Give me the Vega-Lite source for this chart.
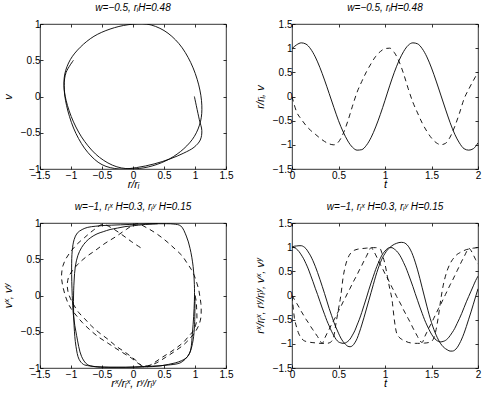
{
  "$schema": "https://vega.github.io/schema/vega-lite/v6.json",
  "padding": {"left": 1, "top": 2, "right": 3, "bottom": 3},
  "background": "white",
  "config": {
    "font": "Liberation Sans",
    "view": {"stroke": "black", "strokeWidth": 0.8},
    "axis": {"grid": false, "domain": false, "ticks": true, "tickColor": "black", "tickSize": -3, "tickWidth": 0.8, "labelFont": "Liberation Sans", "labelFontSize": 10, "labelColor": "black", "labelFlush": false, "labelOverlap": false, "titleFont": "Liberation Sans", "titleFontSize": 11, "titleFontWeight": "normal", "titleFontStyle": "italic", "titleColor": "black"},
    "axisX": {"labelPadding": 4, "titlePadding": -2},
    "axisY": {"labelPadding": 3, "titlePadding": 7},
    "title": {"font": "Liberation Sans", "fontSize": 10, "fontStyle": "italic", "fontWeight": "normal", "color": "black", "offset": 6.5, "frame": "group"},
    "line": {"color": "black", "strokeWidth": 0.9}
  },
  "datasets": {
    "top": [
      {"t": 0, "s": 0.99, "v": 0},
      {"t": 0.05, "s": 1.07, "v": -0.32},
      {"t": 0.1, "s": 1.11, "v": -0.47},
      {"t": 0.15, "s": 1.085, "v": -0.6},
      {"t": 0.2, "s": 0.985, "v": -0.7},
      {"t": 0.25, "s": 0.82, "v": -0.78},
      {"t": 0.3, "s": 0.6, "v": -0.86},
      {"t": 0.35, "s": 0.34, "v": -0.93},
      {"t": 0.4, "s": 0.06, "v": -0.98},
      {"t": 0.45, "s": -0.225, "v": -1.0},
      {"t": 0.5, "s": -0.5, "v": -0.94},
      {"t": 0.55, "s": -0.73, "v": -0.77},
      {"t": 0.6, "s": -0.92, "v": -0.51},
      {"t": 0.65, "s": -1.05, "v": -0.2},
      {"t": 0.7, "s": -1.11, "v": 0.09},
      {"t": 0.75, "s": -1.1, "v": 0.31},
      {"t": 0.8, "s": -1.01, "v": 0.51},
      {"t": 0.85, "s": -0.85, "v": 0.68},
      {"t": 0.9, "s": -0.63, "v": 0.83},
      {"t": 0.95, "s": -0.37, "v": 0.93},
      {"t": 1.0, "s": -0.08, "v": 0.99},
      {"t": 1.05, "s": 0.22, "v": 1.0},
      {"t": 1.1, "s": 0.5, "v": 0.91},
      {"t": 1.15, "s": 0.74, "v": 0.73},
      {"t": 1.2, "s": 0.93, "v": 0.47},
      {"t": 1.25, "s": 1.06, "v": 0.16},
      {"t": 1.3, "s": 1.11, "v": -0.12},
      {"t": 1.35, "s": 1.09, "v": -0.34},
      {"t": 1.4, "s": 0.99, "v": -0.55},
      {"t": 1.45, "s": 0.82, "v": -0.72},
      {"t": 1.5, "s": 0.59, "v": -0.86},
      {"t": 1.55, "s": 0.32, "v": -0.955},
      {"t": 1.6, "s": 0.03, "v": -0.997},
      {"t": 1.65, "s": -0.26, "v": -0.97},
      {"t": 1.7, "s": -0.54, "v": -0.84},
      {"t": 1.75, "s": -0.78, "v": -0.62},
      {"t": 1.8, "s": -0.96, "v": -0.35},
      {"t": 1.85, "s": -1.08, "v": -0.05},
      {"t": 1.9, "s": -1.11, "v": 0.15},
      {"t": 1.95, "s": -1.08, "v": 0.33},
      {"t": 2.0, "s": -0.96, "v": 0.5}
    ],
    "bot": [
      {"t": 0, "a": 1.0, "b": 1.0, "c": 0.0, "d": 0.0},
      {"t": 0.025, "a": 1.02, "b": 0.99, "c": -0.45, "d": -0.08},
      {"t": 0.05, "a": 1.025, "b": 0.96, "c": -0.66, "d": -0.16},
      {"t": 0.075, "a": 1.03, "b": 0.91, "c": -0.8, "d": -0.24},
      {"t": 0.1, "a": 1.03, "b": 0.84, "c": -0.88, "d": -0.33},
      {"t": 0.125, "a": 1.01, "b": 0.76, "c": -0.93, "d": -0.41},
      {"t": 0.15, "a": 0.97, "b": 0.66, "c": -0.95, "d": -0.49},
      {"t": 0.175, "a": 0.9, "b": 0.55, "c": -0.96, "d": -0.56},
      {"t": 0.2, "a": 0.82, "b": 0.42, "c": -0.97, "d": -0.64},
      {"t": 0.225, "a": 0.72, "b": 0.29, "c": -0.975, "d": -0.71},
      {"t": 0.25, "a": 0.605, "b": 0.15, "c": -0.98, "d": -0.78},
      {"t": 0.275, "a": 0.475, "b": 0.02, "c": -0.985, "d": -0.85},
      {"t": 0.3, "a": 0.335, "b": -0.12, "c": -0.99, "d": -0.93},
      {"t": 0.325, "a": 0.19, "b": -0.26, "c": -0.99, "d": -0.99},
      {"t": 0.35, "a": 0.04, "b": -0.39, "c": -0.99, "d": -0.89},
      {"t": 0.375, "a": -0.115, "b": -0.52, "c": -0.99, "d": -0.79},
      {"t": 0.4, "a": -0.27, "b": -0.63, "c": -0.98, "d": -0.7},
      {"t": 0.425, "a": -0.41, "b": -0.74, "c": -0.95, "d": -0.6},
      {"t": 0.45, "a": -0.55, "b": -0.83, "c": -0.84, "d": -0.51},
      {"t": 0.475, "a": -0.67, "b": -0.91, "c": -0.55, "d": -0.42},
      {"t": 0.5, "a": -0.78, "b": -0.96, "c": -0.28, "d": -0.32},
      {"t": 0.525, "a": -0.88, "b": -0.98, "c": 0.0, "d": -0.23},
      {"t": 0.55, "a": -0.955, "b": -0.99, "c": 0.38, "d": -0.13},
      {"t": 0.575, "a": -1.01, "b": -0.98, "c": 0.62, "d": -0.04},
      {"t": 0.6, "a": -1.05, "b": -0.95, "c": 0.77, "d": 0.06},
      {"t": 0.625, "a": -1.06, "b": -0.9, "c": 0.86, "d": 0.15},
      {"t": 0.65, "a": -1.04, "b": -0.82, "c": 0.91, "d": 0.25},
      {"t": 0.675, "a": -0.98, "b": -0.73, "c": 0.94, "d": 0.34},
      {"t": 0.7, "a": -0.89, "b": -0.61, "c": 0.955, "d": 0.43},
      {"t": 0.725, "a": -0.76, "b": -0.49, "c": 0.965, "d": 0.53},
      {"t": 0.75, "a": -0.61, "b": -0.35, "c": 0.97, "d": 0.62},
      {"t": 0.775, "a": -0.45, "b": -0.2, "c": 0.975, "d": 0.72},
      {"t": 0.8, "a": -0.28, "b": -0.05, "c": 0.98, "d": 0.81},
      {"t": 0.825, "a": -0.11, "b": 0.11, "c": 0.985, "d": 0.91},
      {"t": 0.85, "a": 0.06, "b": 0.26, "c": 0.99, "d": 0.99},
      {"t": 0.875, "a": 0.23, "b": 0.4, "c": 0.99, "d": 0.93},
      {"t": 0.9, "a": 0.4, "b": 0.54, "c": 0.99, "d": 0.84},
      {"t": 0.925, "a": 0.55, "b": 0.66, "c": 0.985, "d": 0.74},
      {"t": 0.95, "a": 0.68, "b": 0.77, "c": 0.96, "d": 0.64},
      {"t": 0.975, "a": 0.79, "b": 0.86, "c": 0.82, "d": 0.55},
      {"t": 1.0, "a": 0.87, "b": 0.92, "c": 0.65, "d": 0.45},
      {"t": 1.025, "a": 0.94, "b": 0.97, "c": 0.4, "d": 0.36},
      {"t": 1.05, "a": 0.99, "b": 0.99, "c": 0.15, "d": 0.27},
      {"t": 1.075, "a": 1.03, "b": 0.99, "c": -0.08, "d": 0.17},
      {"t": 1.1, "a": 1.06, "b": 0.96, "c": -0.5, "d": 0.08},
      {"t": 1.125, "a": 1.08, "b": 0.92, "c": -0.78, "d": -0.02},
      {"t": 1.15, "a": 1.095, "b": 0.86, "c": -0.86, "d": -0.11},
      {"t": 1.175, "a": 1.1, "b": 0.78, "c": -0.9, "d": -0.2},
      {"t": 1.2, "a": 1.095, "b": 0.68, "c": -0.93, "d": -0.3},
      {"t": 1.225, "a": 1.07, "b": 0.575, "c": -0.95, "d": -0.39},
      {"t": 1.25, "a": 1.02, "b": 0.45, "c": -0.97, "d": -0.48},
      {"t": 1.275, "a": 0.94, "b": 0.32, "c": -0.98, "d": -0.57},
      {"t": 1.3, "a": 0.83, "b": 0.185, "c": -0.985, "d": -0.67},
      {"t": 1.325, "a": 0.69, "b": 0.04, "c": -0.99, "d": -0.76},
      {"t": 1.35, "a": 0.53, "b": -0.1, "c": -0.99, "d": -0.85},
      {"t": 1.375, "a": 0.35, "b": -0.24, "c": -0.99, "d": -0.94},
      {"t": 1.4, "a": 0.16, "b": -0.37, "c": -0.99, "d": -0.97},
      {"t": 1.425, "a": -0.03, "b": -0.5, "c": -0.985, "d": -0.86},
      {"t": 1.45, "a": -0.22, "b": -0.61, "c": -0.98, "d": -0.76},
      {"t": 1.475, "a": -0.4, "b": -0.71, "c": -0.97, "d": -0.66},
      {"t": 1.5, "a": -0.56, "b": -0.8, "c": -0.95, "d": -0.57},
      {"t": 1.525, "a": -0.7, "b": -0.87, "c": -0.88, "d": -0.47},
      {"t": 1.55, "a": -0.82, "b": -0.92, "c": -0.7, "d": -0.37},
      {"t": 1.575, "a": -0.92, "b": -0.95, "c": -0.42, "d": -0.27},
      {"t": 1.6, "a": -1.0, "b": -0.96, "c": -0.08, "d": -0.18},
      {"t": 1.625, "a": -1.06, "b": -0.95, "c": 0.2, "d": -0.08},
      {"t": 1.65, "a": -1.1, "b": -0.93, "c": 0.4, "d": 0.02},
      {"t": 1.675, "a": -1.13, "b": -0.89, "c": 0.55, "d": 0.12},
      {"t": 1.7, "a": -1.15, "b": -0.83, "c": 0.66, "d": 0.22},
      {"t": 1.725, "a": -1.15, "b": -0.76, "c": 0.74, "d": 0.31},
      {"t": 1.75, "a": -1.13, "b": -0.68, "c": 0.8, "d": 0.41},
      {"t": 1.775, "a": -1.08, "b": -0.58, "c": 0.85, "d": 0.51},
      {"t": 1.8, "a": -1.0, "b": -0.48, "c": 0.88, "d": 0.61},
      {"t": 1.825, "a": -0.9, "b": -0.37, "c": 0.91, "d": 0.71},
      {"t": 1.85, "a": -0.78, "b": -0.25, "c": 0.93, "d": 0.8},
      {"t": 1.875, "a": -0.64, "b": -0.13, "c": 0.95, "d": 0.9},
      {"t": 1.9, "a": -0.49, "b": -0.02, "c": 0.96, "d": 0.98},
      {"t": 1.925, "a": -0.34, "b": 0.09, "c": 0.97, "d": 0.93},
      {"t": 1.95, "a": -0.18, "b": 0.2, "c": 0.98, "d": 0.84},
      {"t": 1.975, "a": -0.02, "b": 0.31, "c": 0.985, "d": 0.74},
      {"t": 2.0, "a": 0.14, "b": 0.4, "c": 0.99, "d": 0.65}
    ]
  },
  "columns": 2,
  "spacing": {"row": 54, "column": 66},
  "bounds": "flush",
  "concat": [
    {
      "width": 186, "height": 145,
      "title": "w=−0.5, rᵢH=0.48",
      "data": {"name": "top"},
      "layer": [
        {
          "mark": {"type": "line", "interpolate": "catmull-rom", "clip": true},
          "encoding": {
            "x": {"field": "s", "type": "quantitative", "scale": {"domain": [-1.5, 1.5], "nice": false, "zero": false}, "axis": {"values": [-1.5, -1, -0.5, 0, 0.5, 1, 1.5], "format": "~g", "title": "r/rᵢ"}},
            "y": {"field": "v", "type": "quantitative", "scale": {"domain": [-1, 1], "nice": false, "zero": false}, "axis": {"values": [-1, -0.5, 0, 0.5, 1], "format": "~g", "title": "v"}},
            "order": {"field": "t", "type": "quantitative"}
          }
        },
        {
          "mark": {"type": "line", "opacity": 0},
          "encoding": {
            "x": {"field": "s", "type": "quantitative", "scale": {"domain": [-1.5, 1.5], "nice": false, "zero": false}, "axis": {"orient": "top", "values": [-1.5, -1, -0.5, 0, 0.5, 1, 1.5], "labels": false, "title": null}},
            "y": {"field": "v", "type": "quantitative", "scale": {"domain": [-1, 1], "nice": false, "zero": false}, "axis": {"orient": "right", "values": [-1, -0.5, 0, 0.5, 1], "labels": false, "title": null}},
            "order": {"field": "t", "type": "quantitative"}
          }
        }
      ],
      "resolve": {"axis": {"x": "independent", "y": "independent"}}
    },
    {
      "width": 186, "height": 145,
      "title": "w=−0.5, rᵢH=0.48",
      "data": {"name": "top"},
      "layer": [
        {
          "mark": {"type": "line", "interpolate": "monotone", "clip": true},
          "encoding": {
            "x": {"field": "t", "type": "quantitative", "scale": {"domain": [0, 2], "nice": false, "zero": false}, "axis": {"values": [0, 0.5, 1, 1.5, 2], "format": "~g", "title": "t"}},
            "y": {"field": "s", "type": "quantitative", "scale": {"domain": [-1.5, 1.5], "nice": false, "zero": false}, "axis": {"values": [-1.5, -1, -0.5, 0, 0.5, 1, 1.5], "format": "~g", "title": "r/rᵢ, v"}}
          }
        },
        {
          "mark": {"type": "line", "interpolate": "monotone", "clip": true, "strokeDash": [5, 4]},
          "encoding": {
            "x": {"field": "t", "type": "quantitative", "scale": {"domain": [0, 2], "nice": false, "zero": false}, "axis": {"orient": "top", "values": [0, 0.5, 1, 1.5, 2], "labels": false, "title": null}},
            "y": {"field": "v", "type": "quantitative", "scale": {"domain": [-1.5, 1.5], "nice": false, "zero": false}, "axis": {"orient": "right", "values": [-1.5, -1, -0.5, 0, 0.5, 1, 1.5], "labels": false, "title": null}}
          }
        }
      ],
      "resolve": {"axis": {"x": "independent", "y": "independent"}}
    },
    {
      "width": 186, "height": 145,
      "title": "w=−1, rᵢˣ H=0.3, rᵢʸ H=0.15",
      "data": {"name": "bot"},
      "layer": [
        {
          "mark": {"type": "line", "interpolate": "catmull-rom", "clip": true},
          "encoding": {
            "x": {"field": "b", "type": "quantitative", "scale": {"domain": [-1.5, 1.5], "nice": false, "zero": false}, "axis": {"values": [-1.5, -1, -0.5, 0, 0.5, 1, 1.5], "format": "~g", "title": "rˣ/rᵢˣ, rʸ/rᵢʸ"}},
            "y": {"field": "c", "type": "quantitative", "scale": {"domain": [-1, 1], "nice": false, "zero": false}, "axis": {"values": [-1, -0.5, 0, 0.5, 1], "format": "~g", "title": "vˣ, vʸ"}},
            "order": {"field": "t", "type": "quantitative"}
          }
        },
        {
          "mark": {"type": "line", "interpolate": "catmull-rom", "clip": true, "strokeDash": [5, 4]},
          "encoding": {
            "x": {"field": "a", "type": "quantitative", "scale": {"domain": [-1.5, 1.5], "nice": false, "zero": false}, "axis": {"orient": "top", "values": [-1.5, -1, -0.5, 0, 0.5, 1, 1.5], "labels": false, "title": null}},
            "y": {"field": "d", "type": "quantitative", "scale": {"domain": [-1, 1], "nice": false, "zero": false}, "axis": {"orient": "right", "values": [-1, -0.5, 0, 0.5, 1], "labels": false, "title": null}},
            "order": {"field": "t", "type": "quantitative"}
          }
        }
      ],
      "resolve": {"axis": {"x": "independent", "y": "independent"}}
    },
    {
      "width": 186, "height": 145,
      "title": "w=−1, rᵢˣ H=0.3, rᵢʸ H=0.15",
      "data": {"name": "bot"},
      "layer": [
        {
          "transform": [{"fold": ["a", "b"], "as": ["k", "val"]}],
          "mark": {"type": "line", "interpolate": "monotone", "clip": true},
          "encoding": {
            "x": {"field": "t", "type": "quantitative", "scale": {"domain": [0, 2], "nice": false, "zero": false}, "axis": {"values": [0, 0.5, 1, 1.5, 2], "format": "~g", "title": "t"}},
            "y": {"field": "val", "type": "quantitative", "scale": {"domain": [-1.5, 1.5], "nice": false, "zero": false}, "axis": {"values": [-1.5, -1, -0.5, 0, 0.5, 1, 1.5], "format": "~g", "title": "rˣ/rᵢˣ, rʸ/rᵢʸ, vˣ, vʸ"}},
            "detail": {"field": "k", "type": "nominal"}
          }
        },
        {
          "transform": [{"fold": ["c", "d"], "as": ["k", "val"]}],
          "mark": {"type": "line", "interpolate": "monotone", "clip": true, "strokeDash": [5, 4]},
          "encoding": {
            "x": {"field": "t", "type": "quantitative", "scale": {"domain": [0, 2], "nice": false, "zero": false}, "axis": {"orient": "top", "values": [0, 0.5, 1, 1.5, 2], "labels": false, "title": null}},
            "y": {"field": "val", "type": "quantitative", "scale": {"domain": [-1.5, 1.5], "nice": false, "zero": false}, "axis": {"orient": "right", "values": [-1.5, -1, -0.5, 0, 0.5, 1, 1.5], "labels": false, "title": null}},
            "detail": {"field": "k", "type": "nominal"}
          }
        }
      ],
      "resolve": {"axis": {"x": "independent", "y": "independent"}}
    }
  ]
}
